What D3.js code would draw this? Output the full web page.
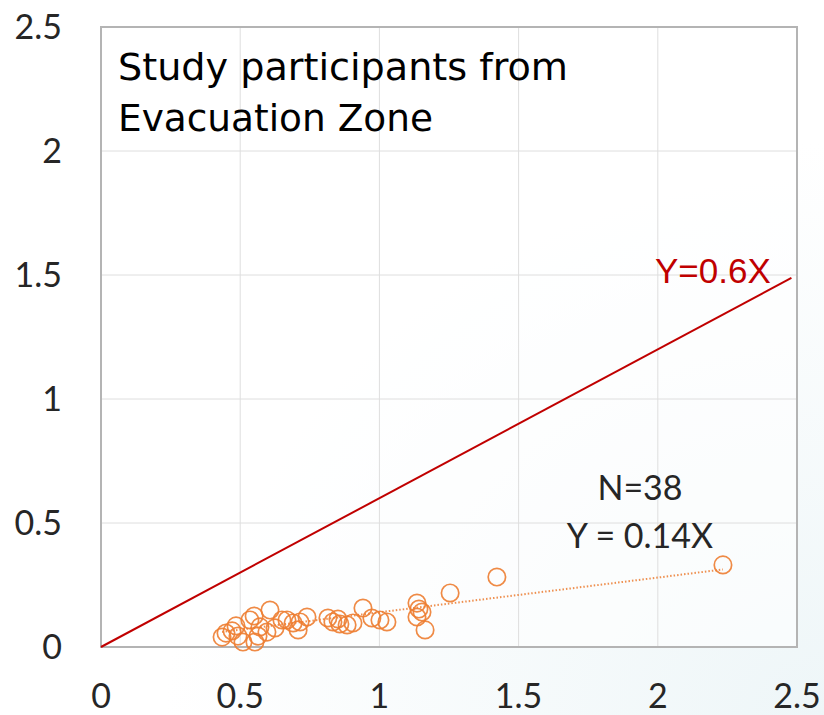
<!DOCTYPE html>
<html>
<head>
<meta charset="utf-8">
<script src="https://cdn.jsdelivr.net/npm/d3@7"></script>
<style>
  html, body { margin: 0; padding: 0; background: #fff; }
  svg { display: block; }
</style>
</head>
<body>
<div id="chart"></div>
<script>
// values (x, y) for the 38 participants
const xValues = [0.435, 0.449, 0.471, 0.492, 0.510, 0.553, 0.535, 0.550, 0.571, 0.564,
                 0.607, 0.596, 0.625, 0.650, 0.668, 0.690, 0.708, 0.715, 0.740, 0.815,
                 0.833, 0.851, 0.858, 0.884, 0.905, 0.941, 0.973, 1.002, 1.027, 1.135,
                 1.142, 1.135, 1.153, 1.164, 1.254, 1.422, 2.234, 0.485];
const yValues = [0.040, 0.056, 0.065, 0.044, 0.020, 0.020, 0.109, 0.125, 0.081, 0.044,
                 0.149, 0.060, 0.077, 0.109, 0.109, 0.097, 0.069, 0.101, 0.121, 0.117,
                 0.101, 0.113, 0.093, 0.089, 0.097, 0.157, 0.117, 0.109, 0.101, 0.177,
                 0.153, 0.121, 0.141, 0.069, 0.218, 0.282, 0.331, 0.085];
const xTicks = [0, 0.5, 1, 1.5, 2, 2.5];
const yTicks = [0, 0.5, 1, 1.5, 2, 2.5];
const refSlope = 0.6;   // Y=0.6X
const fitSlope = 0.14;  // Y = 0.14X
const titleLines = ["Study participants from", "Evacuation Zone"];
const noteLines = ["N=38", "Y = 0.14X"];

const width = 824, height = 715;

const svg = d3.select('#chart').append('svg')
    .attr('width', width)
    .attr('height', height);

// faint tinted background in the lower right
const defs = svg.append('defs');
const grad = defs.append('radialGradient').attr('id', 'bg')
    .attr('cx', '1').attr('cy', '1').attr('r', '0.8');
grad.append('stop').attr('offset', '0').attr('stop-color', '#eef6f8');
grad.append('stop').attr('offset', '1').attr('stop-color', '#ffffff');
svg.append('rect').attr('width', width).attr('height', height).attr('fill', 'url(#bg)');

const x = d3.scaleLinear().domain([0, 2.5]).range([101, 797]);
const y = d3.scaleLinear().domain([0, 2.5]).range([647, 27]);

// plot background
svg.append('rect')
    .attr('x', x(0)).attr('y', y(2.5))
    .attr('width', x(2.5) - x(0)).attr('height', y(0) - y(2.5))
    .attr('fill', '#ffffff').attr('fill-opacity', 0.6);

// grid
svg.append('g').selectAll('line')
  .data(xTicks.slice(1, -1))
  .enter().append('line')
    .attr('x1', d => x(d)).attr('x2', d => x(d))
    .attr('y1', y(0)).attr('y2', y(2.5))
    .attr('stroke', '#dedede').attr('stroke-width', 1);
svg.append('g').selectAll('line')
  .data(yTicks.slice(1, -1))
  .enter().append('line')
    .attr('x1', x(0)).attr('x2', x(2.5))
    .attr('y1', d => y(d)).attr('y2', d => y(d))
    .attr('stroke', '#dedede').attr('stroke-width', 1);

// frame
svg.append('rect')
    .attr('x', x(0)).attr('y', y(2.5))
    .attr('width', x(2.5) - x(0)).attr('height', y(0) - y(2.5))
    .attr('fill', 'none').attr('stroke', '#b4b4b4').attr('stroke-width', 2);

// tick labels
const tickFont = 'Lato, "Open Sans", sans-serif';
svg.append('g').selectAll('text')
  .data(yTicks)
  .enter().append('text')
    .attr('x', 62).attr('y', d => y(d))
    .attr('dy', '0.36em')
    .attr('text-anchor', 'end')
    .style('font-family', tickFont).style('font-size', '34px')
    .attr('fill', '#262626')
    .text(d => d);
svg.append('g').selectAll('text')
  .data(xTicks)
  .enter().append('text')
    .attr('x', d => x(d)).attr('y', 708)
    .attr('text-anchor', 'middle')
    .style('font-family', tickFont).style('font-size', '34px')
    .attr('fill', '#262626')
    .text(d => d);

// reference line Y=0.6X
svg.append('line')
    .attr('x1', x(0)).attr('y1', y(0))
    .attr('x2', x(2.48)).attr('y2', y(refSlope * 2.48))
    .attr('stroke', '#c00000').attr('stroke-width', 2);
svg.append('text')
    .attr('x', 655).attr('y', 283)
    .style('font-family', '"Liberation Sans", Arial, sans-serif').style('font-size', '35px')
    .attr('fill', '#c00000')
    .text('Y=' + refSlope + 'X');

// fitted trend line, dotted
const xMin = d3.min(xValues), xMax = d3.max(xValues);
svg.append('line')
    .attr('x1', x(xMin)).attr('y1', y(fitSlope * xMin))
    .attr('x2', x(xMax)).attr('y2', y(fitSlope * xMax))
    .attr('stroke', '#ed7d31').attr('stroke-width', 2)
    .attr('stroke-dasharray', '1.5 2').attr('opacity', 0.85);

// points
const points = xValues.map((v, i) => ({x: v, y: yValues[i]}));
svg.append('g').selectAll('circle')
  .data(points)
  .enter().append('circle')
    .attr('cx', d => x(d.x)).attr('cy', d => y(d.y))
    .attr('r', 8.7)
    .attr('fill', 'none')
    .attr('stroke', '#ed7d31').attr('stroke-width', 1.7)
    .attr('opacity', 0.9);

// notes
svg.append('g').selectAll('text')
  .data(noteLines)
  .enter().append('text')
    .attr('x', 640)
    .attr('y', (d, i) => 500 + i * 48)
    .attr('text-anchor', 'middle')
    .style('font-family', tickFont).style('font-size', '34px')
    .attr('fill', '#262626')
    .text(d => d);

// title
svg.append('g').selectAll('text')
  .data(titleLines)
  .enter().append('text')
    .attr('x', 118)
    .attr('y', (d, i) => 80 + i * 51)
    .style('font-family', '"DejaVu Sans", sans-serif').style('font-size', '38px')
    .attr('textLength', (d, i) => i === 0 ? 450 : 315)
    .attr('lengthAdjust', 'spacingAndGlyphs')
    .attr('fill', '#000')
    .text(d => d);
</script>
</body>
</html>
